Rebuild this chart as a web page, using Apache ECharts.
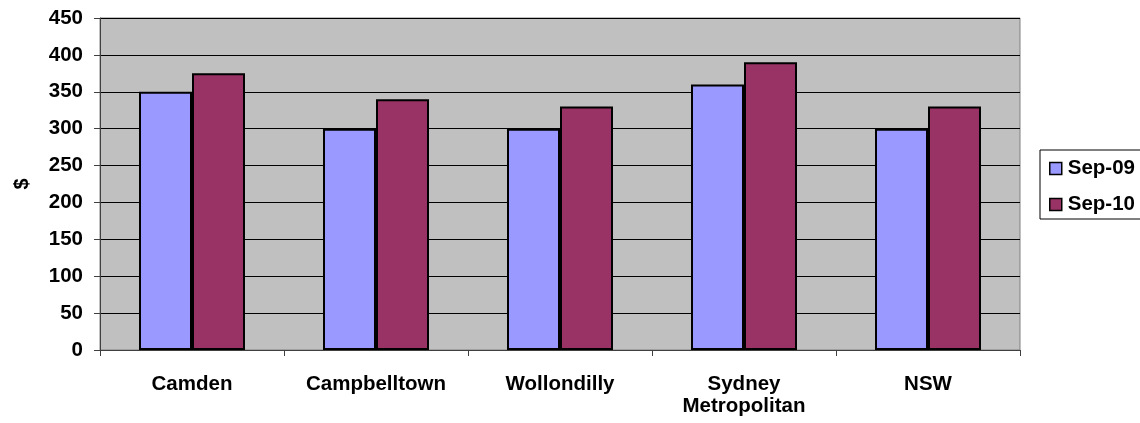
<!DOCTYPE html>
<html>
<head>
<meta charset="utf-8">
<script src="https://cdn.jsdelivr.net/npm/echarts@6/dist/echarts.min.js"></script>
<style>html,body{margin:0;padding:0;background:#fff;}#c{width:1140px;height:423px;}</style>
</head>
<body>
<div id="c"></div>
<script>
const categories = ['Camden', 'Campbelltown', 'Wollondilly', 'Sydney\nMetropolitan', 'NSW'];
const sep09 = [350, 300, 300, 360, 300];
const sep10 = [375, 340, 330, 390, 330];
const yTicks = {min: 0, max: 450, interval: 50};
const seriesNames = ['Sep-09', 'Sep-10'];

const chart = echarts.init(document.getElementById('c'));
const font = 'Liberation Sans, Arial, sans-serif';
chart.setOption({
  animation: false,
  backgroundColor: '#fff',
  textStyle: {fontFamily: font},
  grid: {left: 100, right: 120, top: 18, bottom: 73, show: true, backgroundColor: '#C0C0C0', borderColor: '#808080', borderWidth: 1},
  legend: {
    orient: 'vertical', left: 1040, top: 150,
    data: seriesNames,
    icon: 'rect', itemWidth: 12, itemHeight: 12, itemGap: 15,
    padding: [8, 20, 4, 9],
    borderColor: '#000', borderWidth: 1, backgroundColor: '#fff',
    itemStyle: {borderColor: '#000', borderWidth: 1.5},
    textStyle: {fontFamily: font, fontWeight: 'bold', fontSize: 20.5, color: '#000', padding: [0, 0, 0, 1]}
  },
  xAxis: {
    type: 'category', data: categories, boundaryGap: true,
    axisLine: {lineStyle: {color: '#404040', width: 1}},
    axisTick: {show: true, length: 6, lineStyle: {color: '#404040'}},
    axisLabel: {color: '#000', fontWeight: 'bold', fontSize: 20.5, fontFamily: font, margin: 23, lineHeight: 22, interval: 0}
  },
  yAxis: {
    type: 'value', min: yTicks.min, max: yTicks.max, interval: yTicks.interval,
    name: '$', nameLocation: 'middle', nameRotate: 90, nameGap: 68,
    nameTextStyle: {color: '#000', fontWeight: 'bold', fontSize: 20, fontFamily: font},
    axisLine: {show: true, lineStyle: {color: '#404040', width: 1}},
    axisTick: {show: true, length: 6, lineStyle: {color: '#404040'}},
    axisLabel: {color: '#000', fontWeight: 'bold', fontSize: 20.5, fontFamily: font, margin: 17},
    splitLine: {show: true, lineStyle: {color: '#000', width: 1}}
  },
  series: [
    {name: seriesNames[0], type: 'bar', data: sep09, barWidth: 53, barGap: '0%',
     itemStyle: {color: '#9999FF', borderColor: '#000', borderWidth: 2}},
    {name: seriesNames[1], type: 'bar', data: sep10, barWidth: 53, barGap: '0%',
     itemStyle: {color: '#993366', borderColor: '#000', borderWidth: 2}}
  ]
});
</script>
</body>
</html>
